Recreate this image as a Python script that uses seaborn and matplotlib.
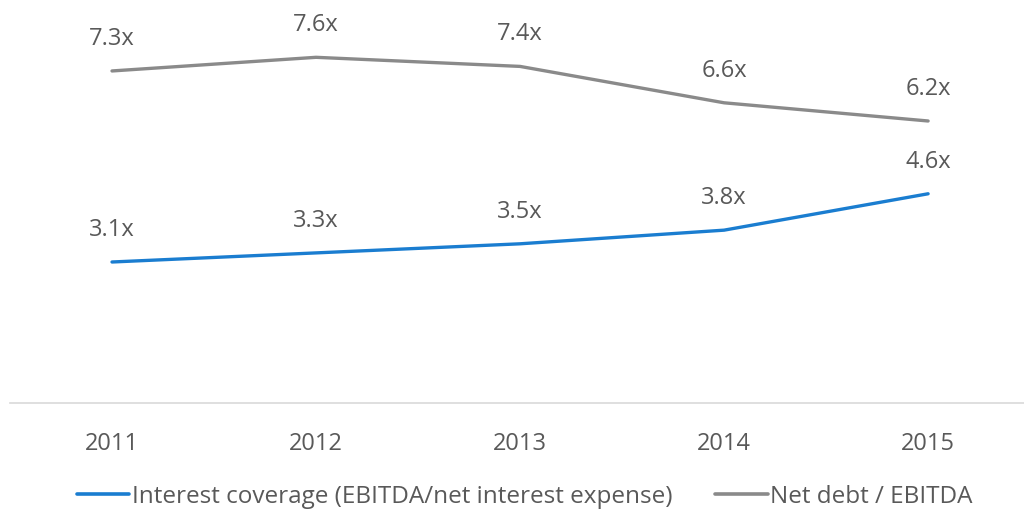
import matplotlib
matplotlib.use("Agg")
import matplotlib.pyplot as plt
import seaborn as sns
import pandas as pd

years = ["2011", "2012", "2013", "2014", "2015"]
interest_coverage = [3.1, 3.3, 3.5, 3.8, 4.6]
net_debt_ebitda = [7.3, 7.6, 7.4, 6.6, 6.2]
series_names = ["Interest coverage (EBITDA/net interest expense)", "Net debt / EBITDA"]
colors = ["#1A7DD0", "#8A8A8A"]

sns.set_style("white")
plt.rcParams['font.family'] = ['Open Sans', 'DejaVu Sans']

rows = []
for i, y in enumerate(years):
    rows.append({"x": i, "value": interest_coverage[i], "series": series_names[0]})
    rows.append({"x": i, "value": net_debt_ebitda[i], "series": series_names[1]})
df = pd.DataFrame(rows)

fs = 17
fig = plt.figure(figsize=(10.24, 5.17), dpi=100)
ax = fig.add_axes([10/1024, 114/517, 1014/1024, 403/517])
sns.lineplot(data=df, x="x", y="value", hue="series", palette=colors,
             hue_order=series_names, linewidth=2.4, ax=ax, legend=True)

ax.set_xlim(-0.5, 4.47)
ax.set_ylim(0, 8.86)
ax.set_xticks(range(len(years)))
ax.set_xticklabels(years, fontsize=fs, color="#595959")
ax.tick_params(axis="x", length=0, pad=21)
ax.set_yticks([])
ax.set_xlabel("")
ax.set_ylabel("")
for s in ["top", "left", "right"]:
    ax.spines[s].set_visible(False)
ax.spines["bottom"].set_color("#D9D9D9")
ax.spines["bottom"].set_linewidth(1.2)

for vals in [interest_coverage, net_debt_ebitda]:
    for i, v in enumerate(vals):
        ax.annotate(f"{v:.1f}x", (i, v), xytext=(0, 23), textcoords="offset points",
                    ha="center", va="center", fontsize=fs, color="#595959")

handles, labels = ax.get_legend_handles_labels()
ax.legend(handles, labels, loc="center", bbox_to_anchor=(525/1024, 20/517), bbox_transform=fig.transFigure,
          ncol=2, frameon=False, fontsize=17.5, handlelength=2.15, handletextpad=0.12,
          columnspacing=1.75, labelcolor="#595959")
leg = ax.get_legend()
for line in leg.get_lines():
    line.set_linewidth(2.6)

fig.savefig("out.png", dpi=100, facecolor="white")
